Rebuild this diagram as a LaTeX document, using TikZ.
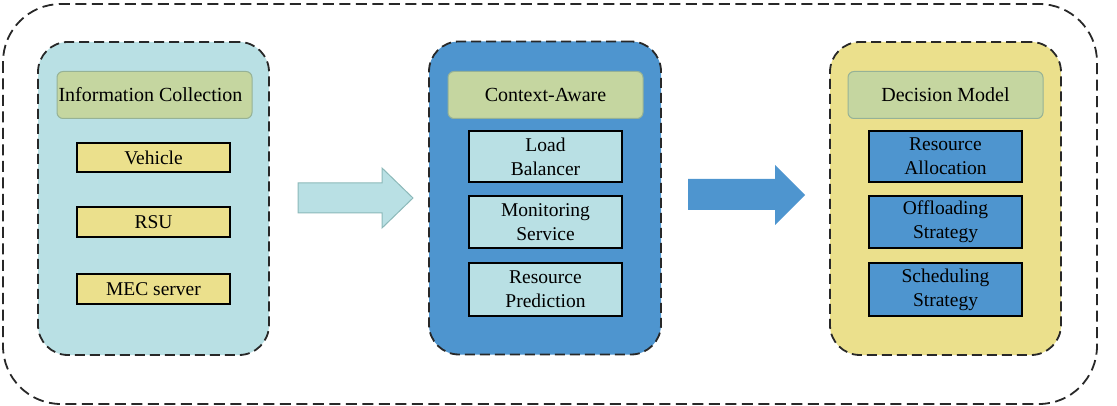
\documentclass[tikz,border=0pt]{standalone}
\usepackage{fontspec}
\setmainfont{Liberation Serif}
\definecolor{cyanL}{RGB}{185,224,228}
\definecolor{blueM}{RGB}{78,149,207}
\definecolor{yelL}{RGB}{235,224,140}
\definecolor{greenH}{RGB}{197,214,160}
\definecolor{greenB}{RGB}{150,178,150}
\definecolor{arrB}{RGB}{140,185,185}
\definecolor{dashC}{RGB}{40,40,40}
\begin{document}
\begin{tikzpicture}[x=1pt,y=-1pt,
  panel/.style={draw=dashC, line width=1.8pt, dash pattern=on 10pt off 5pt, rounded corners=30pt, minimum width=#1, minimum height=313pt, inner sep=0pt},
  header/.style={draw=greenB, fill=greenH, line width=1pt, rounded corners=6pt, minimum width=195pt, minimum height=47pt, inner sep=0pt, font=\fontsize{20}{24}\selectfont},
  item/.style={draw=black, line width=1.8pt, minimum width=153pt, minimum height=#1, inner sep=0pt, align=center, font=\fontsize{19.5}{24}\selectfont}
]
\useasboundingbox (0,0) rectangle (1117,406);
% outer frame
\draw[dashC, line width=1.8pt, dash pattern=on 11pt off 5.5pt, rounded corners=58pt] (3,4) rectangle (1097,404);

% panel 1
\node[panel=231pt, fill=cyanL] (p1) at (153.5,198.5) {};
\node[header] (h1) at (154.5,95) {\hspace*{-8pt}Information Collection};
\node[item=29pt, fill=yelL] (veh) at (153.5,157.5) {Vehicle};
\node[item=30pt, fill=yelL] (rsu) at (153.5,222) {RSU};
\node[item=30pt, fill=yelL] (mec) at (153.5,289) {MEC server};

% panel 2
\node[panel=232pt, fill=blueM] (p2) at (545,198) {};
\node[header] (h2) at (545.5,95) {Context-Aware};
\node[item=51pt, fill=cyanL] (lb) at (545.5,156.5) {Load\\Balancer};
\node[item=52pt, fill=cyanL] (ms) at (545.5,222) {Monitoring\\Service};
\node[item=53pt, fill=cyanL] (rp) at (545.5,289.5) {Resource\\Prediction};

% panel 3
\node[panel=231pt, fill=yelL] (p3) at (945.5,198.5) {};
\node[header] (h3) at (945.5,95) {Decision Model};
\node[item=51pt, fill=blueM] (ra) at (945.5,156.5) {Resource\\Allocation};
\node[item=52pt, fill=blueM] (os) at (945.5,222) {Offloading\\Strategy};
\node[item=53pt, fill=blueM] (ss) at (945.5,289.5) {Scheduling\\Strategy};

% block arrows
\draw[draw=arrB, fill=cyanL, line width=1pt] (298,183) -- (382,183) -- (382,168) -- (413,198) -- (382,228) -- (382,213) -- (298,213) -- cycle;
\fill[blueM] (688,179) -- (775,179) -- (775,165) -- (805,195) -- (775,225) -- (775,210) -- (688,210) -- cycle;
\end{tikzpicture}
\end{document}
